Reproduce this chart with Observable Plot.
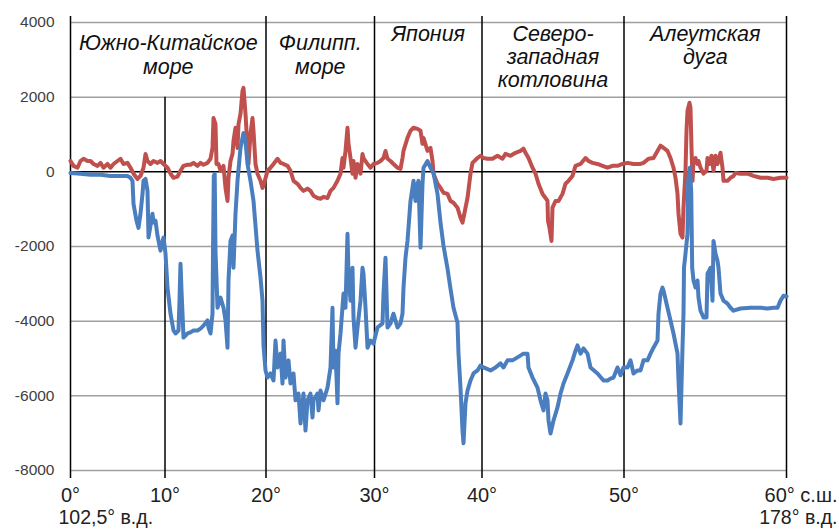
<!DOCTYPE html>
<html>
<head>
<meta charset="utf-8">
<script src="https://cdn.jsdelivr.net/npm/d3@7"></script>
<script src="https://cdn.jsdelivr.net/npm/@observablehq/plot@0.6"></script>
<style>
  html, body { margin: 0; padding: 0; background: #fff; }
  #chart { width: 839px; height: 529px; }
  svg { font-family: "Liberation Sans", Arial, sans-serif; }
</style>
</head>
<body>
<div id="chart"></div>
<script>
// Profile distance (arbitrary along-track units) of each latitude mark
const latTicks = [0, 10, 20, 30, 40, 50, 60];
const tickDist = [0, 94.5, 195.5, 304, 411.5, 553.5, 716];
const latLabels = ["0°", "10°", "20°", "30°", "40°", "50°"];
const lastLatLabel = "60° с.ш.";
const startLon = "102,5° в.д.";
const endLon = "178° в.д.";
const yTicks = [4000, 2000, 0, -2000, -4000, -6000, -8000];

// Region names and the latitude band each occupies
const regionNames = ["Южно-Китайское\nморе", "Филипп.\nморе", "Япония", "Северо-\nзападная\nкотловина", "Алеутская\nдуга"];
const regionFrom = [0, 20, 30, 40, 50];
const regionTo = [20, 30, 40, 50, 60];

// Blue series (relief, m)
const blueX = [0,10,20,30,40,50,57,60,62,63,66,68,70,72,73,75,77,78,80,82,83,85,87,90,93,95,97,100,103,105,108,109,110,111,112,113,117,120,123,127,130,133,137,138,140,142,142.5,143.3,144.2,145,147,150,153,155,157,158,160,162,163,165,167,170,173,175,177,180,183,187,190,192,193,195,197,200,203,205,207,210,212,213,215,218,220,223,225,228,230,233,235,237,240,242,243,247,248,250,253,257,260,262,263,265,267,268,270,273,275,277,278,280,282,283,285,287,290,292,293,295,297,300,303,307,312,313,315,317,320,323,327,330,332,333,335,337,340,342,343,345,347,348,350,352,353,357,360,363,367,370,373,377,380,383,387,388,390,392,393,395,397,400,403,407,410,413,420,425,430,433,437,442,447,453,457,458,462,467,470,473,475,477,478,480,483,487,490,493,497,502,505,507,510,513,517,520,527,533,537,540,543,547,550,553,557,560,563,567,570,573,577,580,583,587,588,590,592,593,597,600,603,607,608,610,612,613,613.5,615,617,617.7,619.3,620.7,621.7,623,625,627,628,630,633,636,637,640,642,643,645,647,648,650,653,657,660,663,670,680,690,697,703,707,710,713,716];
const blueY = [-30,-50,-80,-80,-110,-110,-110,-160,-240,-860,-1310,-1500,-1120,-590,-240,-190,-510,-1760,-1440,-1120,-1360,-1310,-1710,-2110,-1760,-2190,-3100,-3800,-4250,-4330,-4250,-3450,-2460,-3180,-3800,-4440,-4330,-4300,-4250,-4250,-4200,-4120,-3980,-4170,-4330,-3800,-2110,-110,-50,-2110,-3640,-3370,-3640,-3980,-4710,-2910,-1850,-1710,-2570,-1120,-240,640,1040,830,210,-240,-780,-2110,-2830,-3450,-4650,-5320,-5510,-5400,-5590,-4520,-5240,-4870,-5670,-4520,-5510,-5050,-5670,-5400,-6120,-5940,-6740,-5940,-6930,-6120,-5940,-6580,-6120,-5940,-6390,-5860,-6120,-5780,-5240,-3640,-5240,-4790,-6200,-4870,-4330,-3260,-3640,-1660,-2730,-3450,-2570,-3900,-4710,-4170,-3450,-2570,-2730,-3640,-4710,-4520,-4600,-4170,-4060,-3260,-2300,-4170,-4060,-3800,-4170,-4060,-3800,-3100,-2300,-1850,-780,-430,-240,-780,-320,-240,-2030,-320,110,290,110,-30,-590,-1360,-1980,-2590,-3130,-3640,-4040,-4870,-5780,-6930,-7270,-6200,-5860,-5590,-5400,-5320,-5190,-5240,-5320,-5240,-5130,-5240,-5050,-5050,-4970,-4870,-4870,-5240,-5510,-5780,-6120,-6390,-5940,-6120,-6660,-7010,-6660,-6310,-5940,-5670,-5400,-5050,-4790,-4650,-4870,-4730,-4870,-5240,-5400,-5590,-5590,-5540,-5510,-5240,-5450,-5240,-5240,-5050,-5400,-5320,-5320,-5050,-5050,-4870,-4710,-4520,-3800,-3260,-3100,-3180,-3640,-3980,-4330,-4870,-5590,-6740,-4710,-3800,-2570,-2190,-1660,-240,110,-510,-2570,-2910,-3100,-2910,-3370,-3720,-3900,-3900,-2730,-2570,-3450,-1850,-2190,-2380,-2570,-3260,-3450,-3530,-3640,-3720,-3660,-3640,-3640,-3660,-3640,-3640,-3450,-3320,-3340];

// Red series (anomaly)
const redX = [0,3,7,10,13,17,20,23,27,30,33,37,40,43,47,50,53,57,60,63,67,70,73,75,77,80,83,87,90,93,97,100,103,107,110,113,117,120,123,127,130,133,137,140,142,143,145,146,148,150,153,155,157,158,160,162,163,165,167,168,170,172,173,175,177,178,180,182,183,185,187,190,192,193,197,200,203,207,210,213,217,220,223,227,230,233,237,240,243,247,250,253,257,260,263,267,270,272,273,275,277,278,280,282,283,285,287,290,292,293,297,300,303,307,310,313,315,317,320,323,327,330,332,333,337,340,343,347,350,352,353,357,360,362,363,367,370,373,377,380,383,387,390,392,393,397,400,402,407,410,413,417,422,427,432,435,440,445,450,453,455,458,462,465,468,472,475,477,477.5,479,481,482,485,488,492,495,498,502,505,510,515,518,522,527,532,537,542,547,552,557,563,570,573,578,583,587,590,593,597,600,603,605,607,608,610,612,613,615,616,617,619,620,621,622,623,625,627,628,630,633,636,637,639,641,643,645,647,650,652,653,657,660,663,665,670,677,683,690,697,703,710,716];
const redY = [290,160,110,290,350,290,290,210,160,240,110,210,110,210,290,350,210,240,110,-50,-190,-110,110,480,290,210,290,240,290,210,110,-50,-160,-130,30,160,190,190,240,160,240,190,240,350,640,1440,1280,210,210,30,160,-430,-780,-160,290,480,830,1180,640,1280,1550,2170,2250,1550,640,210,1020,1440,1100,210,-50,-240,-430,-370,30,110,210,350,240,210,160,30,-240,-320,-430,-510,-450,-510,-640,-700,-720,-670,-700,-510,-430,-240,-50,370,110,560,1180,750,370,-50,290,-160,210,-50,480,370,210,110,210,240,290,370,560,350,290,210,110,80,370,560,910,1100,1180,1150,1100,750,910,560,640,290,-50,-320,-430,-560,-590,-780,-830,-960,-1230,-1360,-1230,-700,-50,240,370,430,370,350,350,430,350,480,430,510,560,620,510,370,110,-50,-320,-590,-700,-780,-1310,-1500,-1850,-960,-780,-780,-590,-320,-240,-110,160,210,370,290,240,210,160,110,160,160,210,240,210,210,240,350,370,560,700,640,560,370,110,-160,-590,-1120,-1660,-1760,-960,30,1100,1630,1850,1710,640,-240,290,370,210,290,110,-50,30,370,210,430,30,430,210,510,110,-240,-240,-160,-110,-30,-50,-50,-110,-160,-160,-190,-160,-160];

const blue = blueX.map((x, i) => ({x, y: blueY[i]}));
const red = redX.map((x, i) => ({x, y: redY[i]}));
const distOf = lat => tickDist[latTicks.indexOf(lat)];
const regions = regionNames.map((name, i) => ({
  name, x: (distOf(regionFrom[i]) + distOf(regionTo[i])) / 2, tall: regionFrom[i] < 30
}));
const gridVals = yTicks.filter(v => v !== 0);
const boundaries = latTicks.map((lat, i) => ({x: tickDist[i], top: lat === 10 ? 2000 : 4000, ext: lat === 10 ? 0 : -6}));

const chart = Plot.plot({
  width: 839,
  height: 529,
  marginLeft: 70,
  marginRight: 53,
  marginTop: 22,
  marginBottom: 59,
  style: {fontFamily: "'Liberation Sans', Arial, sans-serif", background: "white"},
  x: {domain: [0, 716], axis: null},
  y: {domain: [-8000, 4000], axis: null},
  marks: [
    Plot.ruleY(gridVals, {stroke: "#a0a0a0", strokeWidth: 1.5}),
    Plot.ruleX(boundaries.filter(d => d.ext !== 0), {x: "x", y1: "top", y2: -8000, stroke: "black", strokeWidth: 1.5, insetTop: -6, insetBottom: -8}),
    Plot.ruleX(boundaries.filter(d => d.ext === 0), {x: "x", y1: "top", y2: -8000, stroke: "black", strokeWidth: 1.5, insetBottom: -8}),
    Plot.ruleY([0], {stroke: "black", strokeWidth: 1.5, insetRight: -2}),
    Plot.line(red, {x: "x", y: "y", stroke: "#c0504d", strokeWidth: 4, strokeLinejoin: "round", curve: "linear"}),
    Plot.line(blue, {x: "x", y: "y", stroke: "#4a7ebf", strokeWidth: 4, strokeLinejoin: "round", curve: "linear"}),
    Plot.text(yTicks, {x: 0, y: d => d, text: d => String(d), textAnchor: "end", dx: -16, fontSize: 15.5, fill: "#404040"}),
    Plot.text(latLabels, {x: (d, i) => tickDist[i], y: -8000, text: d => d, dy: 25, fontSize: 20, fill: "#222"}),
    Plot.text([lastLatLabel], {x: tickDist[6], y: -8000, text: d => d, textAnchor: "end", dx: 51, dy: 25, fontSize: 20, fill: "#222"}),
    Plot.text([startLon], {x: tickDist[0], y: -8000, text: d => d, textAnchor: "start", dx: -12, dy: 47, fontSize: 19.5, fill: "#222"}),
    Plot.text([endLon], {x: tickDist[6], y: -8000, text: d => d, textAnchor: "end", dx: 51, dy: 47, fontSize: 19.5, fill: "#222"}),
    Plot.text(regions.filter(d => d.tall), {x: "x", y: 4000, text: "name", lineAnchor: "top", dy: 11, fontSize: 21.5, fontStyle: "italic", lineHeight: 1.1, fill: "#111"}),
    Plot.text(regions.filter(d => !d.tall), {x: "x", y: 4000, text: "name", lineAnchor: "top", dy: 2, fontSize: 21.5, fontStyle: "italic", lineHeight: 1.07, fill: "#111"})
  ]
});
document.getElementById("chart").appendChild(chart);
</script>
</body>
</html>
